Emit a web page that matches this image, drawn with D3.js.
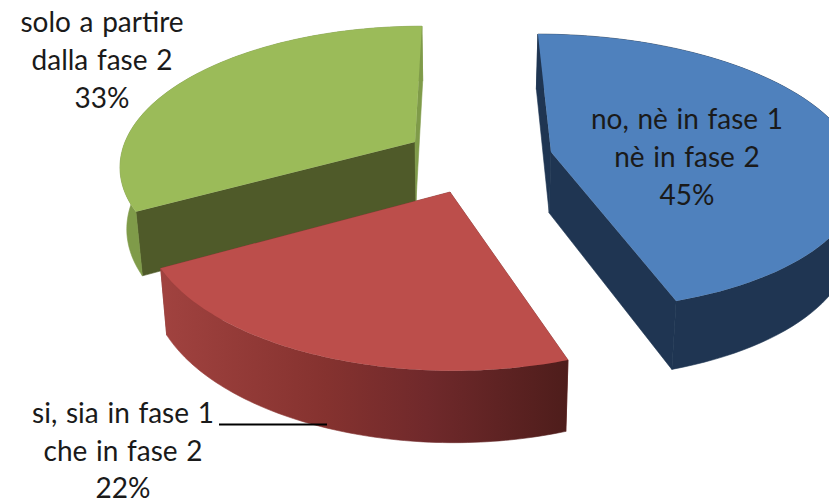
<!DOCTYPE html>
<html><head><meta charset="utf-8">
<script src="https://cdn.jsdelivr.net/npm/d3@7"></script>
<style>html,body{margin:0;padding:0;background:#fff;overflow:hidden}svg{display:block}</style>
</head><body>
<svg id="c" width="829" height="504"></svg>
<script>
// data
const categories = ["no, nè in fase 1 nè in fase 2", "si, sia in fase 1 che in fase 2", "solo a partire dalla fase 2"];
const values = [45, 22, 33];
const labelLines = [["no, nè in fase 1", "nè in fase 2", "45%"], ["si, sia in fase 1", "che in fase 2", "22%"], ["solo a partire", "dalla fase 2", "33%"]];

// styles / layout (not data)
const topColors = ["#4F81BD", "#BC4E4B", "#9BBB59"];
const rimColors = ["#1F3552", "url(#redRim)", "#7F9B49"];
const startWallColors = ["#1F3552", "#8A3A38", "#4F5A29"];
const endWallColors = ["#1F3552", "#8A3A38", "#7F9B49"];
// apex and perspective parameters of each exploded slice
const geom = [
  {ax:551, ay:152, R:303, Q:135, p:0.145, c:-15},
  {ax:450, ay:192, R:300, Q:143, p:0.20,  c:-3},
  {ax:415, ay:142, R:290, Q:134, p:0.157, c:8}
];
const labelPos = [
  {x:687, y:[129,167,205]},
  {x:123, y:[423,461,498]},
  {x:102, y:[32,70,108]}
];
const fontSize = 28;

const svg = d3.select("#c");
const defs = svg.append("defs");
const grad = defs.append("linearGradient").attr("id","redRim").attr("gradientUnits","userSpaceOnUse")
  .attr("x1",165).attr("x2",568).attr("y1",0).attr("y2",0);
[[0,"#A0423F"],[0.4,"#85322F"],[0.65,"#70292B"],[1,"#4E1D1B"]].forEach(s=>grad.append("stop").attr("offset",s[0]).attr("stop-color",s[1]));

const arcs = d3.pie().sort(null).value(d=>d)(values);
const line = d3.line();

function project(g, th){
  const X=Math.sin(th), Y=Math.cos(th), s=1/(1+g.p*Y);
  return [g.ax+(g.R*X+g.c*Y)*s, g.ay-g.Q*Y*s];
}
// extruded lower face: slightly pulled to the vanishing column and pushed down
const kx = d3.scaleLinear().domain([461,561]).range([461,559]);
const ky = d3.scaleLinear().domain([0,100]).range([53.4,158.4]);
const lower = p => [kx(p[0]), ky(p[1])];

function rimPts(g,a){
  const n=80;
  return d3.range(n+1).map(i=>project(g,a.startAngle+(a.endAngle-a.startAngle)*i/n));
}

// draw far to near: green, red, blue
[2,1,0].forEach(i=>{
  const a=arcs[i], g=geom[i];
  const rim=rimPts(g,a), apex=[g.ax,g.ay];
  const s=svg.append("g").attr("class","slice").attr("data-category",categories[i]);
  const e=rim[rim.length-1];
  // radial walls first, outer wall and top face over them
  s.append("path").attr("d",line([rim[0],apex,lower(apex),lower(rim[0])])+"Z").attr("fill",startWallColors[i]).attr("stroke",startWallColors[i]).attr("stroke-width",0.6);
  s.append("path").attr("d",line([apex,e,lower(e),lower(apex)])+"Z").attr("fill",endWallColors[i]).attr("stroke",endWallColors[i]).attr("stroke-width",0.6);
  s.append("path").attr("d",line(rim.concat(rim.map(lower).reverse()))+"Z").attr("fill",rimColors[i]).attr("stroke",rimColors[i]).attr("stroke-width",0.6);
  s.append("path").attr("d",line([apex].concat(rim))+"Z").attr("fill",topColors[i]);
});

// leader line
svg.append("line").attr("x1",219).attr("x2",327).attr("y1",424.5).attr("y2",424.5).attr("stroke","#000").attr("stroke-width",2);

// labels
labelLines.forEach((lines,i)=>{
  lines.forEach((t,j)=>{
    svg.append("text").attr("x",labelPos[i].x).attr("y",labelPos[i].y[j])
      .attr("text-anchor","middle").attr("font-family","Lato, 'Open Sans', sans-serif")
      .attr("font-size",fontSize).attr("word-spacing",1.5).attr("fill","#1a1a1a").text(t);
  });
});
</script>
</body></html>
